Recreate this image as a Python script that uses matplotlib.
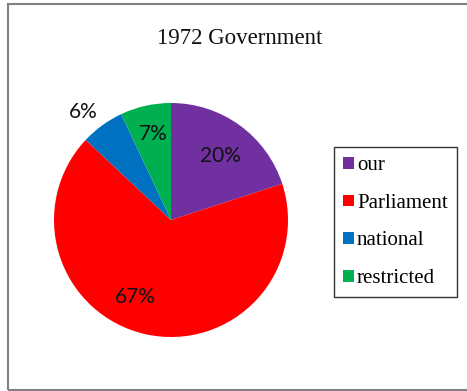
import matplotlib
matplotlib.use("Agg")
import matplotlib.pyplot as plt
from matplotlib.patches import Patch, Rectangle
import numpy as np

# Data
title = "1972 Government"
categories = ["our", "Parliament", "national", "restricted"]
shares = [20, 67, 6, 7]
colors = ["#7030A0", "#FF0000", "#0070C0", "#00B050"]

# Label placement (radius as fraction of pie radius, angle offset in degrees)
label_radius = [0.69, 0.72, 1.19, 0.75]
label_angle_shift = [-1.4, -12.1, 3.0, -0.6]

W, H = 467, 391
fig = plt.figure(figsize=(W / 100, H / 100), dpi=100)
fig.patch.set_facecolor("white")

# Outer frame
frame = Rectangle((7.5 / W, 1 - 389.5 / H), 1.2, (389.5 - 3.5) / H,
                  transform=fig.transFigure, fill=False,
                  edgecolor="#808080", linewidth=1.5, clip_on=False)
fig.patches.append(frame)

cx, cy, r = 171, 220, 117
ax = fig.add_axes([(cx - r) / W, (H - cy - r) / H, 2 * r / W, 2 * r / H])
wedges, _ = ax.pie(shares, colors=colors, startangle=90, counterclock=False,
                   radius=1.0, wedgeprops=dict(linewidth=0))
ax.set_xlim(-1, 1)
ax.set_ylim(-1, 1)
ax.set_aspect("equal")
ax.axis("off")

total = sum(shares)
start = 90.0
for val, rad, shift in zip(shares, label_radius, label_angle_shift):
    sweep = 360.0 * val / total
    mid = start - sweep / 2 + shift
    start -= sweep
    x = rad * np.cos(np.radians(mid))
    y = rad * np.sin(np.radians(mid))
    ax.text(x, y, f"{val}%", ha="center", va="center",
            fontsize=15, family="Lato", color="#111111")

fig.text(240 / W, 1 - 38 / H, title, ha="center", va="center",
         fontsize=16.5, family="Liberation Serif", color="#111111")

handles = [Patch(facecolor=c, edgecolor="none") for c in colors]
leg = fig.legend(handles, categories, loc="upper left",
                 bbox_to_anchor=(334 / W, 1 - 147 / H),
                 prop={"family": "Liberation Serif", "size": 15},
                 frameon=True, fancybox=False, handlelength=0.5,
                 handleheight=0.5, handletextpad=0.15, labelspacing=0.89,
                 borderpad=0.45, borderaxespad=0.0)
leg.get_frame().set_edgecolor("black")
leg.get_frame().set_linewidth(1.0)

fig.savefig("out.png", dpi=100, facecolor="white")
